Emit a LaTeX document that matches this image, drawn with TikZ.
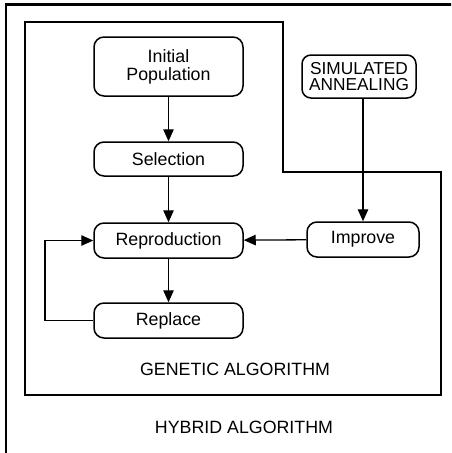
\documentclass[tikz,border=0pt]{standalone}
\usepackage{fontspec}
\setmainfont{Liberation Sans}
\usetikzlibrary{arrows.meta}
\begin{document}
\begin{tikzpicture}[x=1pt,y=-1pt,
  stage/.style={draw, line width=1.5pt, rounded corners=10pt, minimum width=149pt,
    font=\fontsize{17.8}{19}\selectfont, align=center, inner sep=0pt},
  flow/.style={line width=1.3pt, -{Triangle[length=12pt,width=10.5pt]}},
  frame/.style={line width=2.3pt},
  caption/.style={font=\fontsize{17.8}{19}\selectfont}]
\useasboundingbox (0,0) rectangle (451,453);
\begin{scope}
\clip (0,0) rectangle (451,453);
% outer hybrid frame, running past the page edge
\draw[frame] (6,4.5) rectangle (470,470);
\end{scope}
% genetic algorithm frame with its notch
\draw[frame] (25,22) -- (283,22) -- (283,172) -- (441,172) -- (441,395) -- (25,395) -- cycle;

\node[stage, minimum height=59pt] (init) at (168.5,66.5) {Initial\\[-1pt]Population};
\node[stage, minimum height=34pt] (sel) at (168.5,159) {Selection};
\node[stage, minimum height=35pt] (rep) at (168.5,240.5) {Reproduction};
\node[stage, minimum height=35pt] (repl) at (168.5,320.5) {Replace};
\node[stage, minimum height=35pt, minimum width=112pt] (imp) at (363,239.5) {Improve};
\node[stage, minimum height=43pt, minimum width=114pt, rounded corners=9pt,
  font=\fontsize{17.3}{17}\selectfont] (sa) at (359,76.5) {SIMULATED\\[-1pt]ANNEALING};

\node[caption] (ga) at (235,369) {GENETIC ALGORITHM};
\node[caption] (ha) at (244,427) {HYBRID ALGORITHM};

\draw[flow] (init) -- (sel);
\draw[flow] (sel) -- (rep);
\draw[flow] (rep) -- (repl);
\draw[flow] (imp) -- (rep);
\draw[flow] (sa.south -| imp.north) -- (imp.north);
\coordinate (loop) at (45,320.5);
\draw[flow] (repl.west) -- (loop) |- (rep.west);
\end{tikzpicture}
\end{document}
